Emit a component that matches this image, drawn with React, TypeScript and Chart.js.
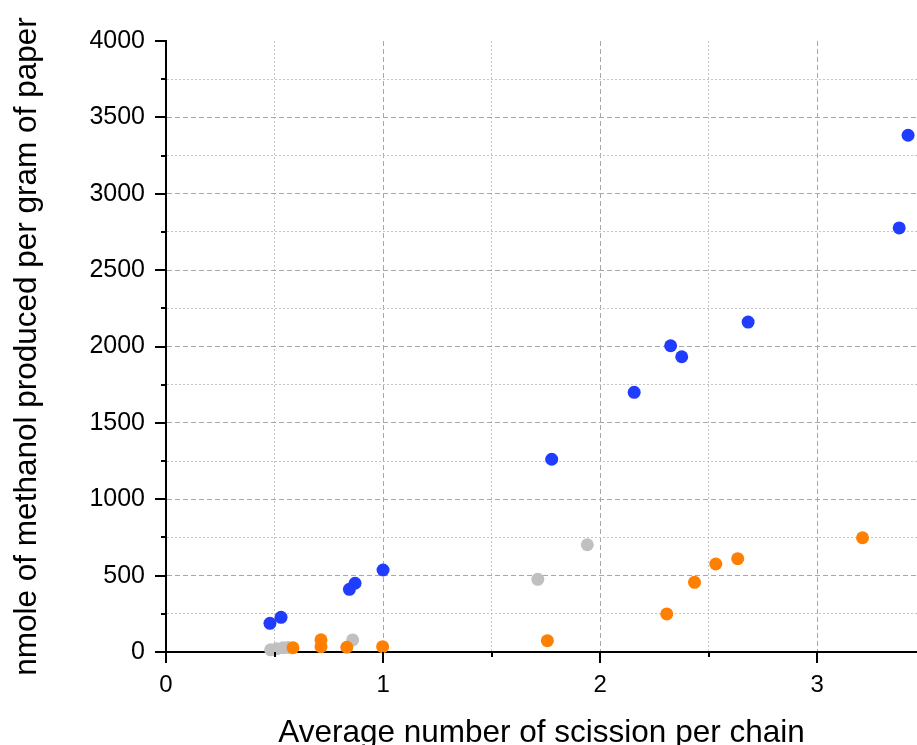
import React, { useEffect, useRef } from "react";
import { Chart, registerables } from "chart.js";

Chart.register(...registerables);

const xTitle = "Average number of scission per chain";
const yTitle = "nmole of methanol produced per gram of paper";

const blueX = [0.479, 0.53, 0.845, 0.871, 1.0, 1.777, 2.157, 2.325, 2.376, 2.682, 3.378, 3.419];
const blueY = [188, 227, 410, 450, 537, 1262, 1700, 2005, 1933, 2160, 2776, 3383];

const orangeX = [0.585, 0.714, 0.714, 0.833, 0.998, 1.757, 2.307, 2.435, 2.533, 2.634, 3.209];
const orangeY = [28, 35, 80, 31, 35, 74, 249, 456, 576, 611, 748];

const grayX = [0.482, 0.51, 0.54, 0.562, 0.86, 1.713, 1.941];
const grayY = [14, 22, 28, 30, 79, 476, 702];

const xTickValues = [0, 0.5, 1, 1.5, 2, 2.5, 3];
const yTickValues = [0, 250, 500, 750, 1000, 1250, 1500, 1750, 2000, 2250, 2500, 2750, 3000, 3250, 3500, 3750, 4000];

const FONT = "'Liberation Sans', Arial, sans-serif";

const toPoints = (xs: number[], ys: number[]) => xs.map((x, i) => ({ x, y: ys[i] }));

const isMajorX = (v: number) => Math.abs(v - Math.round(v)) < 1e-9;
const isMajorY = (v: number) => Math.abs(v / 500 - Math.round(v / 500)) < 1e-9;

const tickPlugin = {
  id: "tickMarks",
  afterDraw(chart: any) {
    const ctx = chart.ctx;
    const xs = chart.scales.x;
    const ys = chart.scales.y;
    const area = chart.chartArea;
    ctx.save();
    ctx.strokeStyle = "#000";
    ctx.lineWidth = 2;
    ctx.setLineDash([]);
    xTickValues.forEach((v) => {
      const px = Math.round(xs.getPixelForValue(v));
      const len = isMajorX(v) ? 11 : 5;
      ctx.beginPath();
      ctx.moveTo(px, area.bottom);
      ctx.lineTo(px, area.bottom + len);
      ctx.stroke();
    });
    yTickValues.forEach((v) => {
      const py = Math.round(ys.getPixelForValue(v));
      const len = isMajorY(v) ? 11 : 5;
      ctx.beginPath();
      ctx.moveTo(area.left, py);
      ctx.lineTo(area.left - len, py);
      ctx.stroke();
    });
    ctx.restore();
  },
};

export default function App() {
  const ref = useRef<HTMLCanvasElement | null>(null);

  useEffect(() => {
    document.body.style.margin = "0";
    if (!ref.current) return;
    const chart = new Chart(ref.current, {
      type: "scatter",
      data: {
        datasets: [
          {
            label: "blue",
            data: toPoints(blueX, blueY),
            backgroundColor: "#1f3cff",
            borderWidth: 0,
            pointRadius: 6.5,
            clip: false,
          },
          {
            label: "orange",
            data: toPoints(orangeX, orangeY),
            backgroundColor: "#ff7f00",
            borderWidth: 0,
            pointRadius: 6.5,
            clip: false,
          },
          {
            label: "gray",
            data: toPoints(grayX, grayY),
            backgroundColor: "#c0c0c0",
            borderWidth: 0,
            pointRadius: 6.5,
            clip: false,
          },
        ] as any,
      },
      options: {
        animation: false,
        responsive: false,
        layout: { autoPadding: false, padding: { top: 41, right: 0, bottom: 0, left: 0 } } as any,
        plugins: {
          legend: { display: false },
          tooltip: { enabled: false },
        },
        scales: {
          x: {
            type: "linear",
            min: 0,
            max: 3.46,
            afterBuildTicks: (scale: any) => {
              scale.ticks = xTickValues.map((value) => ({ value }));
            },
            afterFit: (scale: any) => {
              scale.height = 93;
            },
            ticks: {
              autoSkip: false,
              maxRotation: 0,
              padding: 8,
              color: "#000",
              font: { family: FONT, size: 24 },
              callback: (v: any) => (isMajorX(Number(v)) ? String(v) : ""),
            },
            grid: {
              drawTicks: true,
              tickLength: 11,
              tickColor: "rgba(0,0,0,0)",
              lineWidth: 1,
              color: (ctx: any) => {
                const v = ctx.tick?.value ?? 0;
                if (v === 0) return "rgba(0,0,0,0)";
                return isMajorX(v) ? "#a8a8a8" : "#c4c4c4";
              },
            },
            border: {
              display: true,
              color: "#000",
              width: 2,
              dash: (ctx: any) => (isMajorX(ctx.tick?.value ?? 0) ? [5, 3] : [2, 2]),
            } as any,
            title: {
              display: true,
              text: xTitle,
              color: "#000",
              font: { family: FONT, size: 31.5, lineHeight: 1.08 },
              padding: { top: 0, bottom: -5 },
            },
          },
          y: {
            type: "linear",
            min: 0,
            max: 4000,
            afterBuildTicks: (scale: any) => {
              scale.ticks = yTickValues.map((value) => ({ value }));
            },
            afterFit: (scale: any) => {
              scale.width = 166;
            },
            ticks: {
              autoSkip: false,
              padding: 10,
              color: "#000",
              font: { family: FONT, size: 25 },
              callback: (v: any) => (isMajorY(Number(v)) ? String(v) : ""),
            },
            grid: {
              drawTicks: true,
              tickLength: 11,
              tickColor: "rgba(0,0,0,0)",
              lineWidth: 1,
              color: (ctx: any) => {
                const v = ctx.tick?.value ?? 0;
                if (v === 0 || v === 4000) return "rgba(0,0,0,0)";
                return isMajorY(v) ? "#a8a8a8" : "#c4c4c4";
              },
            },
            border: {
              display: true,
              color: "#000",
              width: 2,
              dash: (ctx: any) => (isMajorY(ctx.tick?.value ?? 0) ? [5, 3] : [2, 2]),
            } as any,
            title: {
              display: true,
              text: yTitle,
              color: "#000",
              font: { family: FONT, size: 31.5, lineHeight: 1.08 },
              padding: { top: 10, bottom: 0 },
            },
          },
        },
      },
      plugins: [tickPlugin],
    });
    return () => chart.destroy();
  }, []);

  return (
    <div style={{ width: 917, height: 745, background: "#fff" }}>
      <canvas ref={ref} width={917} height={745} style={{ display: "block" }} />
    </div>
  );
}
